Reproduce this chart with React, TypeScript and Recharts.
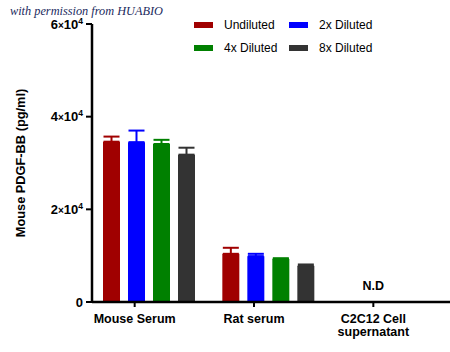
import { BarChart, Bar, XAxis, YAxis, ErrorBar } from "recharts";

const categories = ["Mouse Serum", "Rat serum", "C2C12 Cell supernatant"];
const undiluted = [34600, 10400, null];
const undilutedErr = [1100, 1300, null];
const diluted2x = [34500, 9900, null];
const diluted2xErr = [2500, 500, null];
const diluted4x = [34100, 9300, null];
const diluted4xErr = [900, 150, null];
const diluted8x = [31800, 7800, null];
const diluted8xErr = [1500, 300, null];
const notDetected = [false, false, true];
const yTicks = [0, 20000, 40000, 60000];

const series = [
  { key: "undiluted", name: "Undiluted", color: "#a00000", values: undiluted, errors: undilutedErr },
  { key: "d2", name: "2x Diluted", color: "#0000ff", values: diluted2x, errors: diluted2xErr },
  { key: "d4", name: "4x Diluted", color: "#008000", values: diluted4x, errors: diluted4xErr },
  { key: "d8", name: "8x Diluted", color: "#333333", values: diluted8x, errors: diluted8xErr },
];

const data = categories.map((name, i) => {
  const row: any = { name, nd: notDetected[i] };
  series.forEach((s) => {
    row[s.key] = s.values[i];
    row[s.key + "Err"] = s.errors[i];
  });
  return row;
});

const font = "'Liberation Sans', Arial, sans-serif";

const XTick = (props: any) => {
  const { x, y, payload, index } = props;
  const cx = x - 14;
  const lines =
    payload.value === "C2C12 Cell supernatant" ? ["C2C12 Cell", "supernatant"] : [payload.value];
  return (
    <g>
      <line x1={cx} x2={cx} y1={y} y2={y + 5} stroke="#000" strokeWidth={2} />
      {lines.map((l: string, i: number) => (
        <text
          key={l}
          x={cx}
          y={y + 21 + i * 13}
          textAnchor="middle"
          fontFamily={font}
          fontWeight="bold"
          fontSize={12.5}
          fill="#000"
        >
          {l}
        </text>
      ))}
      {data[index]?.nd && (
        <text x={cx} y={y - 12} textAnchor="middle" fontFamily={font} fontWeight="bold" fontSize={12.5} fill="#000">
          N.D
        </text>
      )}
    </g>
  );
};

const YTick = (props: any) => {
  const { x, y, payload } = props;
  const v = payload.value;
  return (
    <text x={x} y={y} dy={4.5} textAnchor="end" fontFamily={font} fontWeight="bold" fontSize={13} fill="#000">
      {v === 0 ? (
        "0"
      ) : (
        <>
          <tspan>{v / 10000}</tspan>
          <tspan fontSize={10}>×</tspan>
          <tspan>10</tspan>
          <tspan dy={-5} fontSize={8.5}>4</tspan>
        </>
      )}
    </text>
  );
};

const YLabel = (props: any) => {
  const { viewBox } = props;
  const cx = 20;
  const cy = viewBox.y + viewBox.height / 2;
  return (
    <text
      x={cx}
      y={cy}
      transform={`rotate(-90, ${cx}, ${cy})`}
      textAnchor="middle"
      dominantBaseline="central"
      fontFamily={font}
      fontWeight="bold"
      fontSize={12.8}
      fill="#000"
    >
      Mouse PDGF-BB (pg/ml)
    </text>
  );
};

export default function App() {
  return (
    <div style={{ position: "absolute", left: 0, top: 0, width: 450, height: 352, background: "#fff" }}>
      <BarChart
        width={450}
        height={352}
        data={data}
        margin={{ top: 24, right: 0, left: 0, bottom: 0 }}
        barSize={17}
        barGap={8}
      >
        <XAxis
          dataKey="name"
          height={50}
          padding={{ left: -3, right: 3 }}
          axisLine={{ stroke: "#000", strokeWidth: 2.5 }}
          tickLine={false}
          tickSize={0}
          tickMargin={0}
          interval={0}
          tick={<XTick />}
        />
        <YAxis
          width={92}
          domain={[0, 60000]}
          ticks={yTicks}
          interval={0}
          axisLine={{ stroke: "#000", strokeWidth: 2.5 }}
          tickLine={{ stroke: "#000", strokeWidth: 2 }}
          tickSize={6}
          tickMargin={3}
          tick={<YTick />}
          label={<YLabel />}
        />
        {series.map((s) => (
          <Bar key={s.key} dataKey={s.key} name={s.name} fill={s.color} isAnimationActive={false}>
            <ErrorBar
              dataKey={(d: any) => (d[s.key + "Err"] == null ? null : [0, d[s.key + "Err"]])}
              width={8}
              stroke={s.color}
              strokeWidth={2}
              direction="y"
            />
          </Bar>
        ))}
      </BarChart>
      <div
        style={{
          position: "absolute",
          left: 10,
          top: 4,
          fontFamily: "'Liberation Serif', 'DejaVu Serif', serif",
          fontStyle: "italic",
          fontSize: 12.3,
          color: "#1b2a5e",
          whiteSpace: "nowrap",
        }}
      >
        with permission from HUABIO
      </div>
      <div
        style={{
          position: "absolute",
          left: 194,
          top: 17,
          display: "grid",
          gridTemplateColumns: "95px 110px",
          rowGap: 8,
          fontFamily: font,
          fontSize: 12,
          color: "#000",
        }}
      >
        {series.map((s) => (
          <div key={s.key} style={{ display: "flex", alignItems: "center", height: 15 }}>
            <span style={{ display: "inline-block", width: 19, height: 6, background: s.color, marginRight: 11 }} />
            {s.name}
          </div>
        ))}
      </div>
    </div>
  );
}
